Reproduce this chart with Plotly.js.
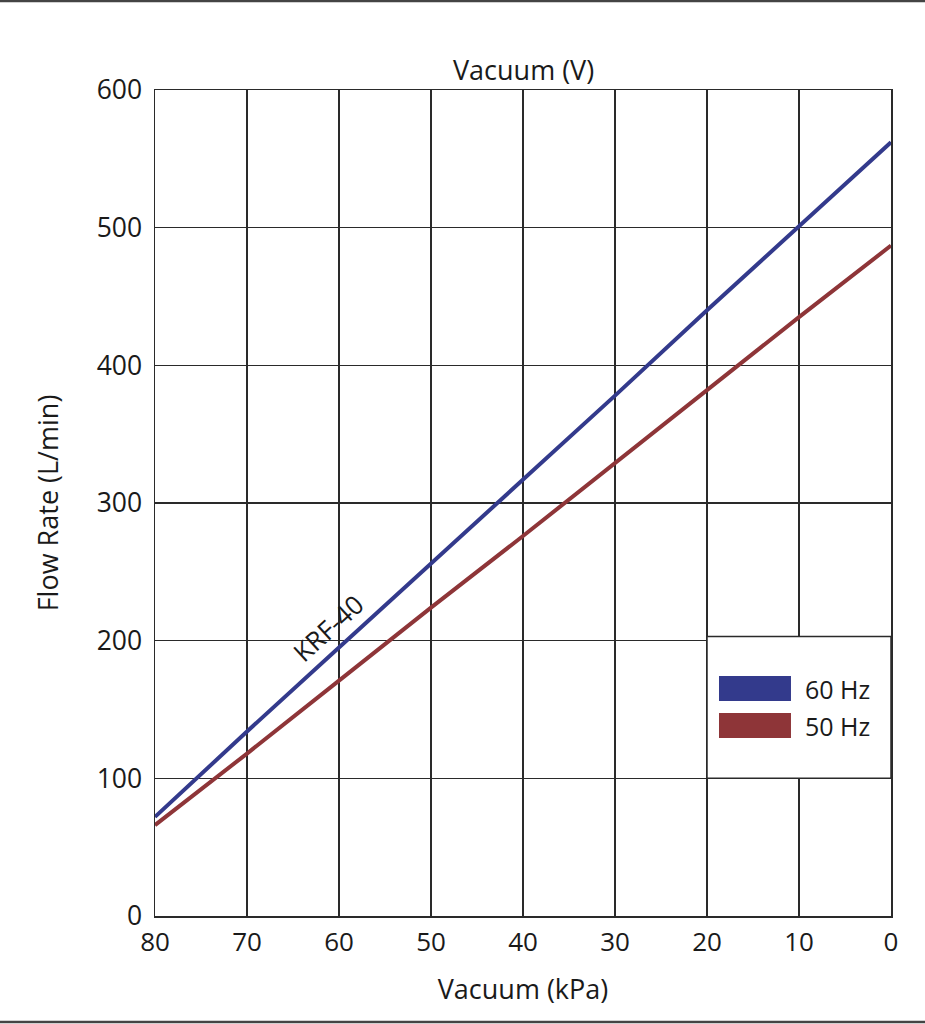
<!DOCTYPE html>
<html>
<head>
<meta charset="utf-8">
<script src="https://cdn.plot.ly/plotly-3.0.1.min.js"></script>
<style>html,body{margin:0;padding:0;background:#fff;}#chart{width:925px;height:1024px;}</style>
</head>
<body>
<div id="chart"></div>
<script>
// Data
const vacuumKPa = [80, 70, 60, 50, 40, 30, 20, 10, 0];
const flow60Hz = [72, 134, 195, 256, 317, 378, 440, 501, 562];
const flow50Hz = [66, 118, 171, 224, 276, 329, 382, 435, 487];
const seriesNames = ['60 Hz', '50 Hz'];
const seriesColors = ['#333a8c', '#8e3538'];
const xTicks = [80, 70, 60, 50, 40, 30, 20, 10, 0];
const yTicks = [0, 100, 200, 300, 400, 500, 600];
const modelLabel = 'KRF-40';

const FONT = '"Open Sans", "Noto Sans", sans-serif';
const TXT = '#1a1a1a';
const GRID = '#2a2a2a';

const traces = [
  {x: vacuumKPa, y: flow60Hz, name: seriesNames[0], mode: 'lines', line: {color: seriesColors[0], width: 4}},
  {x: vacuumKPa, y: flow50Hz, name: seriesNames[1], mode: 'lines', line: {color: seriesColors[1], width: 4}}
];

const layout = {
  width: 925, height: 1024,
  margin: {l: 155, r: 34, t: 90, b: 108, pad: 0},
  paper_bgcolor: '#fff', plot_bgcolor: '#fff',
  showlegend: false,
  font: {family: FONT, color: TXT, size: 26},
  xaxis: {
    range: [80, 0], tickvals: xTicks, ticktext: xTicks.map(String),
    showgrid: true, gridcolor: GRID, gridwidth: 1.3,
    zeroline: false, showline: true, linecolor: GRID, linewidth: 1.5, mirror: true,
    ticks: '', ticklabelstandoff: 2,
    tickfont: {size: 26, family: FONT, color: TXT},
    title: {text: 'Vacuum (kPa)', font: {size: 27, family: FONT, color: TXT}, standoff: 22}
  },
  yaxis: {
    range: [0, 600], tickvals: yTicks, ticktext: yTicks.map(String),
    showgrid: true, gridcolor: GRID, gridwidth: 1.3,
    zeroline: false, showline: true, linecolor: GRID, linewidth: 1.5, mirror: true,
    ticks: '', ticklabelstandoff: 6,
    tickfont: {size: 26.5, family: FONT, color: TXT},
    title: {text: 'Flow Rate (L/min)', font: {size: 27, family: FONT, color: TXT}, standoff: 30}
  },
  shapes: [
    // legend box
    {type: 'rect', xref: 'x', yref: 'y', x0: 20, x1: 0, y0: 100, y1: 203,
     fillcolor: '#fff', line: {color: GRID, width: 1.5}, layer: 'above'},
    // legend swatches
    {type: 'rect', xref: 'paper', yref: 'paper', x0: 0.7663, x1: 0.8641, y0: 0.2603, y1: 0.2906,
     fillcolor: seriesColors[0], line: {width: 0}, layer: 'above'},
    {type: 'rect', xref: 'paper', yref: 'paper', x0: 0.7663, x1: 0.8641, y0: 0.2155, y1: 0.2458,
     fillcolor: seriesColors[1], line: {width: 0}, layer: 'above'},
    // page frame lines top and bottom
    {type: 'line', xref: 'paper', yref: 'paper', x0: -0.22, x1: 1.06, y0: 1.1077, y1: 1.1077,
     line: {color: '#444', width: 2.5}},
    {type: 'line', xref: 'paper', yref: 'paper', x0: -0.22, x1: 1.06, y0: -0.1283, y1: -0.1283,
     line: {color: '#444', width: 2.5}}
  ],
  annotations: [
    {text: 'Vacuum (V)', xref: 'paper', yref: 'paper', x: 0.5, y: 1, yanchor: 'bottom',
     yshift: 0, showarrow: false, font: {size: 27, family: FONT, color: TXT}},
    {text: seriesNames[0], xref: 'paper', yref: 'paper', x: 0.8804, y: 0.2754, xanchor: 'left',
     yanchor: 'middle', showarrow: false, font: {size: 25, family: FONT, color: TXT}},
    {text: seriesNames[1], xref: 'paper', yref: 'paper', x: 0.8804, y: 0.2306, xanchor: 'left',
     yanchor: 'middle', showarrow: false, font: {size: 25, family: FONT, color: TXT}},
    {text: modelLabel, xref: 'x', yref: 'y', x: 61.2, y: 209.5, textangle: -42.5,
     showarrow: false, font: {size: 26, family: FONT, color: TXT}}
  ]
};

Plotly.newPlot('chart', traces, layout, {staticPlot: true, displayModeBar: false});
</script>
</body>
</html>
